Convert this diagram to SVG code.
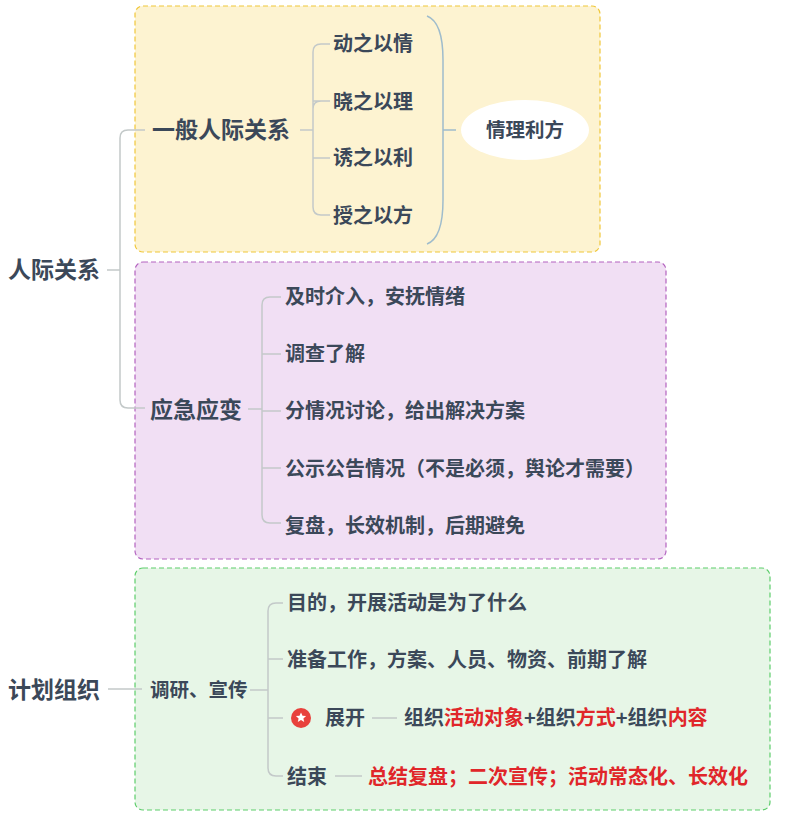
<svg xmlns="http://www.w3.org/2000/svg" width="798" height="826" viewBox="0 0 798 826">
<style>
text{font-family:"Noto Sans CJK SC","Noto Sans",sans-serif;font-weight:bold;fill:#3b4859}
.t1{font-size:23px}.t2{font-size:20px}.t3{font-size:19.5px}
.r{fill:#e0262a}
.c{fill:none;stroke:#c3c9c9;stroke-width:1.5}
.box{stroke-width:1.2;stroke-dasharray:5 3}
</style>
<rect width="798" height="826" fill="#fff"/>
<rect class="box" x="135" y="6" width="465" height="246" rx="8" fill="#fdf3d1" stroke="#f0c73a"/>
<rect class="box" x="135" y="262" width="531" height="297" rx="8" fill="#f1dff4" stroke="#b363bf"/>
<rect class="box" x="135" y="568" width="635" height="242" rx="8" fill="#e7f6e7" stroke="#5dcd6b"/>
<g id="connectors">
<path class="c" d="M107 270H120M145 130H128Q120 130 120 138V400Q120 408 128 408H145"/>
<path class="c" d="M300 130H313M330 44H321Q313 44 313 52V207Q313 215 321 215H330M313 101H321Q313 101 313 109M313 158Q313 158 321 158H330M321 101H330"/>
<path class="c" style="stroke:#9fbccc" d="M427 16Q443 22 443 60V200Q443 238 427 244M443 130H456"/>
<path class="c" d="M248 409H262M281 297H270Q262 297 262 305V515Q262 523 270 523H281M262 354H281M262 411H281M262 468H281"/>
<path class="c" d="M108 689H142M250 690H268M283 603H276Q268 603 268 611V768Q268 776 276 776H283M268 659H283M268 718H283M372 718H397M335 776H362"/>
</g>
<g id="n-root1"><text class="t1" x="8" y="278">人际关系</text></g>
<g id="n-general"><text class="t1" x="152" y="138">一般人际关系</text></g>
<g id="n-g1"><text class="t2" x="333" y="51">动之以情</text></g>
<g id="n-g2"><text class="t2" x="333" y="109">晓之以理</text></g>
<g id="n-g3"><text class="t2" x="333" y="165">诱之以利</text></g>
<g id="n-g4"><text class="t2" x="333" y="223">授之以方</text></g>
<g id="n-summary"><ellipse cx="525" cy="130" rx="64" ry="30" fill="#fff"/><text class="t3" x="525" y="137" text-anchor="middle">情理利方</text></g>
<g id="n-emerg"><text class="t1" x="150" y="418">应急应变</text></g>
<g id="n-e1"><text class="t2" x="285" y="304">及时介入，安抚情绪</text></g>
<g id="n-e2"><text class="t2" x="285" y="361">调查了解</text></g>
<g id="n-e3"><text class="t2" x="285" y="418">分情况讨论，给出解决方案</text></g>
<g id="n-e4"><text class="t2" x="285" y="476">公示公告情况（不是必须，舆论才需要）</text></g>
<g id="n-e5"><text class="t2" x="285" y="533">复盘，长效机制，后期避免</text></g>
<g id="n-root2"><text class="t1" x="8" y="698">计划组织</text></g>
<g id="n-research"><text class="t3" x="150" y="697">调研、宣传</text></g>
<g id="n-p1"><text class="t2" x="287" y="610">目的，开展活动是为了什么</text></g>
<g id="n-p2"><text class="t2" x="287" y="667">准备工作，方案、人员、物资、前期了解</text></g>
<g id="n-p3"><circle cx="301" cy="718" r="10" fill="#e8413c"/><path d="M301 712.5l1.5 3.3 3.6.3-2.7 2.4.8 3.5-3.2-1.9-3.2 1.9.8-3.5-2.7-2.4 3.6-.3z" fill="#fff"/><text class="t2" x="325" y="725">展开</text></g>
<g id="n-p3a"><text class="t2" x="404" y="725">组织<tspan class="r">活动对象</tspan>+组织<tspan class="r">方式</tspan>+组织<tspan class="r">内容</tspan></text></g>
<g id="n-p4"><text class="t2" x="287" y="784">结束</text></g>
<g id="n-p4a"><text class="t2 r" x="368" y="784">总结复盘；二次宣传；活动常态化、长效化</text></g>
</svg>
